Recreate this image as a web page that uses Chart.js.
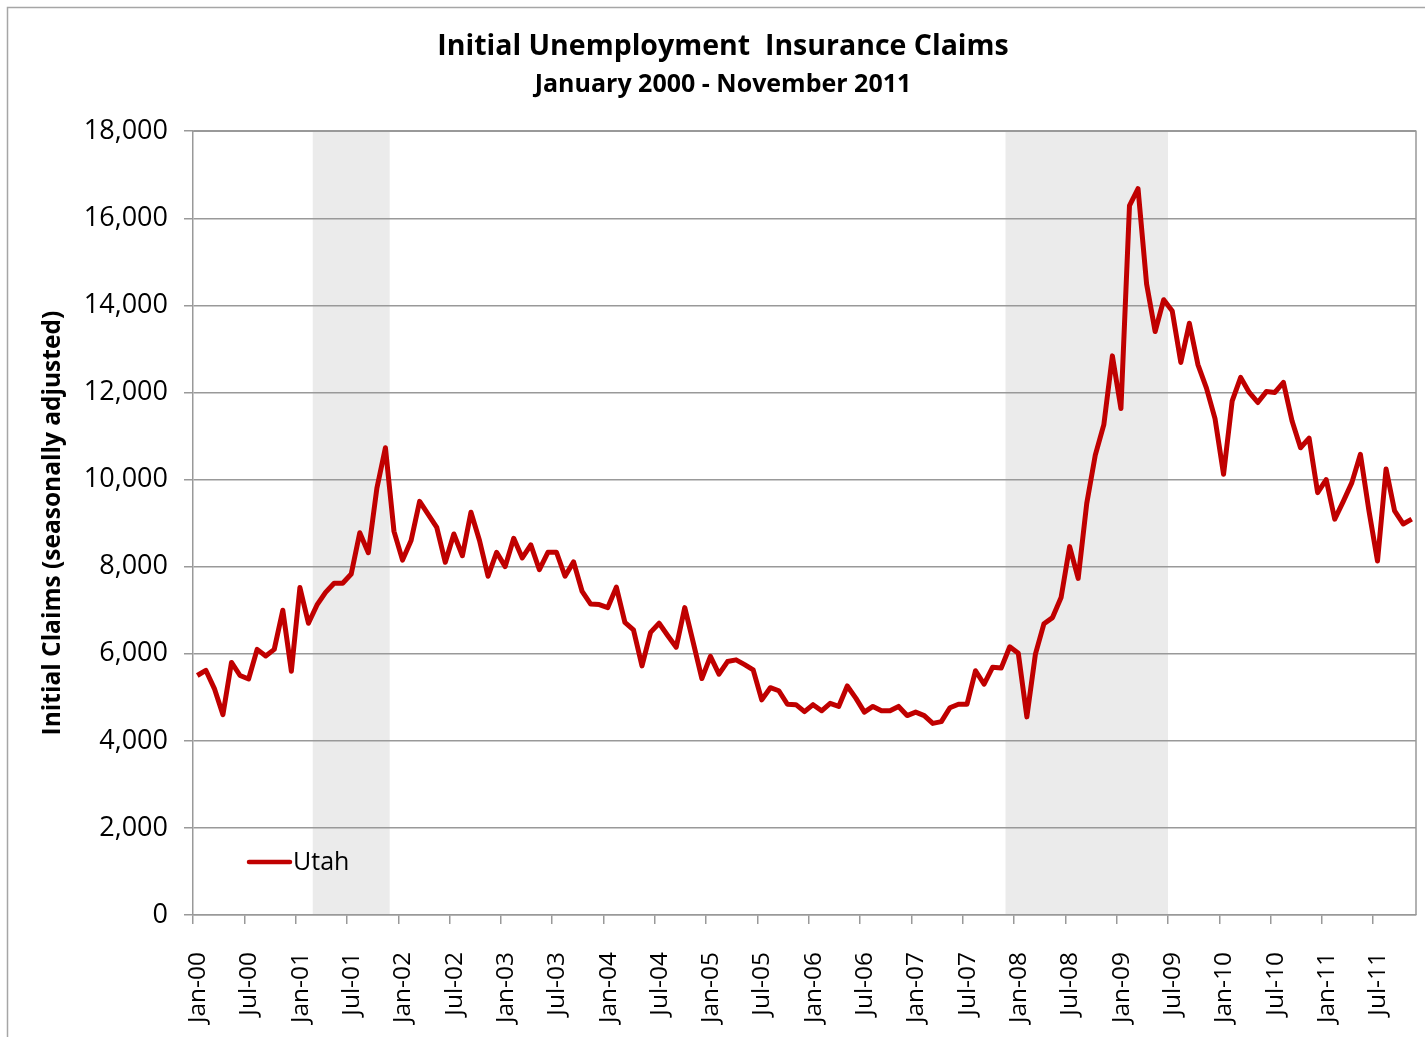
<!DOCTYPE html>
<html>
<head>
<meta charset="utf-8">
<title>Initial Unemployment Insurance Claims</title>
<script src="https://cdn.jsdelivr.net/npm/chart.js@4.4.1/dist/chart.umd.min.js"></script>
<style>
  html, body { margin: 0; padding: 0; background: #fff; }
  #wrap { width: 1425px; height: 1037px; }
</style>
</head>
<body>
<div id="wrap"><canvas id="claimsChart"></canvas></div>
<script>
// ===============================
// DATA
// ===============================
const seriesName = "Utah";

// monthly claims, Jan 2000 .. Nov 2011
const claims2000 = [5500, 5620, 5200, 4600, 5800, 5500, 5420, 6100, 5950, 6100, 7000, 5600];
const claims2001 = [7520, 6700, 7120, 7410, 7620, 7620, 7830, 8780, 8320, 9800, 10730, 8810];
const claims2002 = [8150, 8600, 9500, 9200, 8900, 8100, 8750, 8250, 9250, 8600, 7780, 8330];
const claims2003 = [8000, 8650, 8200, 8500, 7930, 8330, 8330, 7780, 8110, 7430, 7140, 7130];
const claims2004 = [7060, 7530, 6720, 6550, 5720, 6490, 6700, 6420, 6150, 7060, 6250, 5430];
const claims2005 = [5940, 5530, 5820, 5860, 5750, 5630, 4940, 5220, 5150, 4840, 4830, 4670];
const claims2006 = [4830, 4690, 4860, 4790, 5260, 4980, 4660, 4790, 4690, 4690, 4790, 4580];
const claims2007 = [4660, 4580, 4400, 4440, 4760, 4840, 4840, 5610, 5300, 5690, 5670, 6160];
const claims2008 = [6010, 4550, 5990, 6690, 6830, 7290, 8460, 7730, 9450, 10560, 11260, 12840];
const claims2009 = [11630, 16290, 16680, 14490, 13400, 14130, 13870, 12690, 13590, 12640, 12100, 11400];
const claims2010 = [10120, 11800, 12345, 12000, 11770, 12020, 12000, 12230, 11350, 10730, 10950, 9700];
const claims2011 = [10000, 9090, 9500, 9930, 10580, 9280, 8130, 10240, 9280, 8980, 9090];

const claims = [].concat(
  claims2000, claims2001, claims2002, claims2003, claims2004, claims2005,
  claims2006, claims2007, claims2008, claims2009, claims2010, claims2011
);

// one label every 6 months
const tickLabels = [
  "Jan-00", "Jul-00", "Jan-01", "Jul-01", "Jan-02", "Jul-02",
  "Jan-03", "Jul-03", "Jan-04", "Jul-04", "Jan-05", "Jul-05",
  "Jan-06", "Jul-06", "Jan-07", "Jul-07", "Jan-08", "Jul-08",
  "Jan-09", "Jul-09", "Jan-10", "Jul-10", "Jan-11", "Jul-11"
];

// recessions, as month index (start, end) from Jan-00
const recessionStart = [14, 95];
const recessionEnd = [23, 114];

// ===============================
// PLUGINS
// ===============================
const GRID_GRAY = "#999999";
const LINE_RED = "#C00000";

const backgroundPlugin = {
  id: "background",
  beforeDraw(chart) {
    const ctx = chart.ctx;
    const x = chart.scales.x;
    const area = chart.chartArea;

    ctx.save();
    ctx.fillStyle = "#ffffff";
    ctx.fillRect(0, 0, chart.width, chart.height);

    // outer frame (left and top edges visible)
    ctx.strokeStyle = "#a6a6a6";
    ctx.lineWidth = 1.5;
    ctx.strokeRect(7.5, 7.5, chart.width + 20, chart.height + 20);

    // recession bands
    ctx.fillStyle = "#EBEBEB";
    recessionStart.forEach((s, i) => {
      const x0 = x.getPixelForValue(s);
      const x1 = x.getPixelForValue(recessionEnd[i]);
      ctx.fillRect(x0, area.top, x1 - x0, area.bottom - area.top);
    });
    ctx.restore();
  },
  beforeDatasetsDraw(chart) {
    const ctx = chart.ctx;
    const area = chart.chartArea;
    ctx.save();
    ctx.strokeStyle = GRID_GRAY;
    ctx.lineWidth = 1.5;
    ctx.beginPath();
    ctx.moveTo(area.left, area.top);
    ctx.lineTo(area.right, area.top);
    ctx.lineTo(area.right, area.bottom);
    ctx.stroke();
    ctx.restore();
  },
};

const insideLegendPlugin = {
  id: "insideLegend",
  afterDraw(chart) {
    const ctx = chart.ctx;
    const area = chart.chartArea;
    const ds = chart.data.datasets[0];
    const y = area.bottom - 53;
    const x = area.left + 56;

    ctx.save();
    ctx.strokeStyle = ds.borderColor;
    ctx.lineWidth = 4.5;
    ctx.lineCap = "round";
    ctx.beginPath();
    ctx.moveTo(x, y);
    ctx.lineTo(x + 41, y);
    ctx.stroke();

    ctx.fillStyle = "#000";
    ctx.font = "25px 'Open Sans'";
    ctx.textBaseline = "middle";
    ctx.fillText(ds.label, x + 44, y + 1);
    ctx.restore();
  },
};

// ===============================
// CHART
// ===============================
function initChart() {
  const points = claims.map((v, i) => ({ x: i + 0.5, y: v }));
  const ctx = document.getElementById("claimsChart").getContext("2d");

  new Chart(ctx, {
    type: "line",
    data: {
      datasets: [
        {
          label: seriesName,
          data: points,
          borderColor: LINE_RED,
          borderWidth: 5,
          pointRadius: 0,
          tension: 0,
          borderJoinStyle: "round",
        },
      ],
    },
    options: {
      responsive: true,
      maintainAspectRatio: false,
      animation: false,
      layout: { padding: { top: 0, right: 9, bottom: 0, left: 30 } },
      plugins: {
        legend: { display: false },
        tooltip: { enabled: false },
        title: {
          display: true,
          text: "Initial Unemployment  Insurance Claims",
          color: "#000",
          font: { family: "'Open Sans'", size: 28.5, weight: "bold" },
          padding: { top: 30, bottom: 0 },
        },
        subtitle: {
          display: true,
          text: "January 2000 - November 2011",
          color: "#000",
          font: { family: "'Open Sans'", size: 25, weight: "bold" },
          padding: { top: 6, bottom: 31 },
        },
      },
      scales: {
        x: {
          type: "linear",
          min: 0,
          max: claims.length,
          afterFit: (scale) => {
            scale.height = 122;
            scale.paddingLeft = 0;
            scale.paddingRight = 0;
          },
          border: { display: true, color: GRID_GRAY, width: 1.5 },
          grid: {
            drawOnChartArea: false,
            drawTicks: true,
            tickLength: 9,
            color: GRID_GRAY,
            lineWidth: 1.5,
          },
          ticks: {
            stepSize: 6,
            includeBounds: false,
            autoSkip: false,
            maxRotation: 90,
            minRotation: 90,
            padding: 28,
            labelOffset: 5,
            color: "#000",
            font: { family: "'Open Sans'", size: 24.5 },
            callback: (v) => tickLabels[Math.round(v / 6)],
          },
        },
        y: {
          min: 0,
          max: 18000,
          afterFit: (scale) => { scale.width = 163; },
          border: { display: true, color: GRID_GRAY, width: 1.5 },
          grid: {
            color: GRID_GRAY,
            lineWidth: 1.5,
            tickLength: 9,
          },
          ticks: {
            stepSize: 2000,
            padding: 16,
            color: "#000",
            font: { family: "'Open Sans'", size: 27 },
            callback: (v) => v.toLocaleString("en-US"),
          },
          title: {
            display: true,
            text: "Initial Claims (seasonally adjusted)",
            color: "#000",
            font: { family: "'Open Sans'", size: 24.5, weight: "bold" },
            padding: { top: 8, bottom: 0 },
          },
        },
      },
    },
    plugins: [backgroundPlugin, insideLegendPlugin],
  });
}

window.addEventListener("load", initChart);
</script>
</body>
</html>
